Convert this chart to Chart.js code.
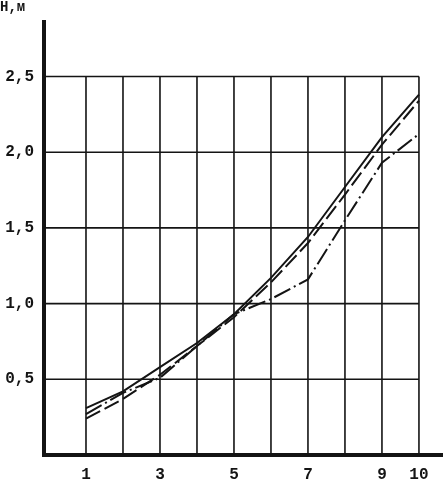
<!DOCTYPE html>
<html>
<head>
<meta charset="utf-8">
<script src="https://cdn.jsdelivr.net/npm/chart.js@4"></script>
<style>
  html, body { margin: 0; padding: 0; background: #fff; }
  canvas { display: block; }
</style>
</head>
<body>
<canvas id="c" width="443" height="479"></canvas>
<script>
// ---- data ----
const xValues = [1, 2, 3, 4, 5, 6, 7, 8, 9, 10];
const solidH   = [0.31, 0.42, 0.58, 0.74, 0.93, 1.17, 1.44, 1.77, 2.10, 2.38];
const dashedH  = [0.24, 0.37, 0.53, 0.72, 0.91, 1.14, 1.40, 1.72, 2.05, 2.34];
const dashDotH = [0.27, 0.41, 0.51, 0.72, 0.93, 1.03, 1.16, 1.55, 1.93, 2.12];
const xTickLabels = [1, 3, 5, 7, 9, 10];
const yTickLabels = [0.5, 1.0, 1.5, 2.0, 2.5];
const gridX = [1, 2, 3, 4, 5, 6, 7, 8, 9, 10];
const gridY = [0.5, 1.0, 1.5, 2.0, 2.5];
const yTitle = 'Н,м';

const toPoints = arr => xValues.map((x, i) => ({ x: x, y: arr[i] }));
const ink = '#141414';
const tickFont = { family: '"Liberation Mono", "Courier New", monospace', size: 16, weight: 'bold' };

const gridPlugin = {
  id: 'limitedGrid',
  beforeDatasetsDraw(chart) {
    const { ctx, scales: { x, y } } = chart;
    ctx.save();
    ctx.strokeStyle = ink;
    ctx.lineWidth = 1.6;
    const xEnd = x.getPixelForValue(gridX[gridX.length - 1]);
    const yTop = y.getPixelForValue(gridY[gridY.length - 1]);
    const yBot = y.getPixelForValue(0);
    ctx.beginPath();
    gridY.forEach(v => {
      const py = y.getPixelForValue(v);
      ctx.moveTo(chart.chartArea.left, py);
      ctx.lineTo(xEnd, py);
    });
    gridX.forEach(v => {
      const px = x.getPixelForValue(v);
      ctx.moveTo(px, yTop);
      ctx.lineTo(px, yBot);
    });
    ctx.stroke();
    ctx.restore();
  },
  afterDraw(chart) {
    const { ctx } = chart;
    ctx.save();
    ctx.fillStyle = ink;
    ctx.font = 'bold 14px "Liberation Mono", "Courier New", monospace';
    ctx.textBaseline = 'alphabetic';
    ctx.textAlign = 'left';
    ctx.fillText(yTitle, 0, 11);
    ctx.restore();
  }
};

new Chart(document.getElementById('c'), {
  type: 'line',
  data: {
    datasets: [
      { label: 'solid', data: toPoints(solidH), borderColor: ink, borderWidth: 2, pointRadius: 0, tension: 0, fill: false },
      { label: 'dashed', data: toPoints(dashedH), borderColor: ink, borderWidth: 2, borderDash: [16, 5], pointRadius: 0, tension: 0, fill: false },
      { label: 'dash-dot', data: toPoints(dashDotH), borderColor: ink, borderWidth: 2, borderDash: [18, 4, 2, 4], pointRadius: 0, tension: 0, fill: false }
    ]
  },
  options: {
    responsive: false,
    devicePixelRatio: 1,
    animation: false,
    layout: { padding: { top: 22, left: 0, right: 0, bottom: 0 } },
    plugins: { legend: { display: false }, tooltip: { enabled: false }, title: { display: false } },
    scales: {
      x: {
        type: 'linear',
        min: -0.135,
        max: 10.65,
        afterBuildTicks: s => { s.ticks = xTickLabels.map(v => ({ value: v })); },
        afterFit: s => { s.height = 24; },
        grid: { display: false, drawTicks: false },
        border: { display: true, width: 4, color: ink },
        ticks: { autoSkip: false, maxRotation: 0, padding: 10, color: ink, font: tickFont, callback: v => String(v) }
      },
      y: {
        type: 'linear',
        min: 0,
        max: 2.86,
        afterBuildTicks: s => { s.ticks = yTickLabels.map(v => ({ value: v })); },
        afterFit: s => { s.width = 44; },
        grid: { display: false, drawTicks: false },
        border: { display: true, width: 4, color: ink },
        ticks: { autoSkip: false, padding: 10, color: ink, font: tickFont, callback: v => Number(v).toFixed(1).replace('.', ',') }
      }
    }
  },
  plugins: [gridPlugin]
});
</script>
</body>
</html>
